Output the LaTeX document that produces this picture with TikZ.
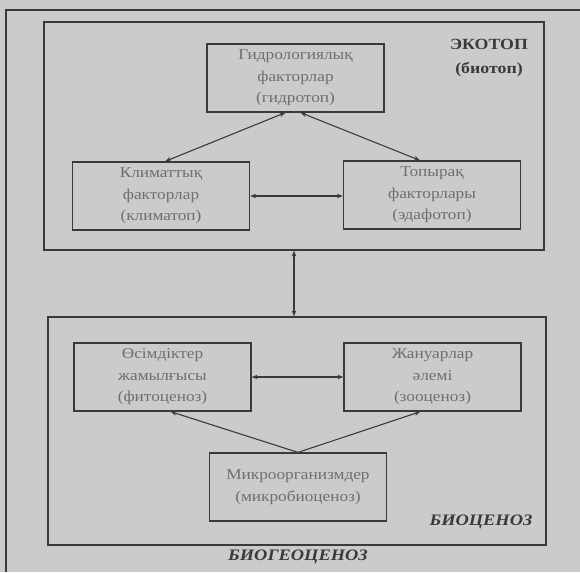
\documentclass[tikz,border=0pt]{standalone}
\usepackage{fontspec}
\setmainfont{Liberation Serif}[FakeStretch=1.15]
\usetikzlibrary{arrows.meta}
\definecolor{paper}{HTML}{CBCBCB}
\definecolor{ink}{HTML}{3A3A3A}
\definecolor{faint}{HTML}{6E6E6E}
\tikzset{
  factor/.style={draw=ink, line width=1.2pt, minimum width=177pt, minimum height=68pt,
    align=center, text=faint, font=\fontsize{15}{21.5}\selectfont, inner sep=1pt},
  zone/.style={draw=ink, line width=1.2pt, minimum width=500pt, minimum height=228pt},
  link/.style={draw=ink, line width=1.1pt, >={Stealth[length=6pt,width=4.5pt]}},
  title/.style={text=ink, align=center, font=\fontsize{15.5}{24}\selectfont\bfseries},
  subtitle/.style={text=ink, font=\fontsize{16}{24}\selectfont\bfseries\itshape}
}
\begin{document}
\begin{tikzpicture}[x=1pt, y=-1pt]
            % Background
            \fill [paper] (0,0) rectangle (580,572);
            \useasboundingbox (0,0) rectangle (580,572);
            \draw [ink, line width=2pt] (6,572) -- (6,10) -- (580,10);

            % Zones
            \node [zone] (ecotop) at (294,136) {};
            \node [zone, minimum width=498pt] (biocenoz) at (297,431) {};
            \node [title] (ecolabel) at (489,58) {ЭКОТОП\\(биотоп)};
            \node [subtitle] (biolabel) at (481,522) {БИОЦЕНОЗ};
            \node [subtitle] (bgclabel) at (298,557) {БИОГЕОЦЕНОЗ};

            % Ecotop factors
            \node [factor] (hydro) at (295.5,78) {Гидрологиялық\\факторлар\\(гидротоп)};
            \node [factor] (klimat) at (161,196) {Климаттық\\факторлар\\(климатоп)};
            \node [factor] (topyrak) at (432,195) {Топырақ\\факторлары\\(эдафотоп)};

            % Biocenoz parts
            \node [factor] (osimdik) at (162.5,377) {Өсімдіктер\\жамылғысы\\(фитоценоз)};
            \node [factor] (januar) at (432.5,377) {Жануарлар\\әлемі\\(зооценоз)};
            \node [factor] (mikro) at (298,487) {Микроорганизмдер\\(микробиоценоз)};

            % Links
            \draw [link, <->] ([xshift=-10pt]hydro.south) -- ([xshift=4pt]klimat.north);
            \draw [link, <->] ([xshift=5pt]hydro.south) -- ([xshift=-12pt]topyrak.north);
            \draw [link, <->] (klimat.east) -- (klimat.east -| topyrak.west);
            \draw [link, <->] (ecotop.south) -- (ecotop.south |- biocenoz.north);
            \draw [link, <->] (osimdik.east) -- (osimdik.east -| januar.west);
            \draw [link, ->] (mikro.north) -- ([xshift=8pt]osimdik.south);
            \draw [link, ->] (mikro.north) -- ([xshift=-12pt]januar.south);
        \end{tikzpicture}
\end{document}
